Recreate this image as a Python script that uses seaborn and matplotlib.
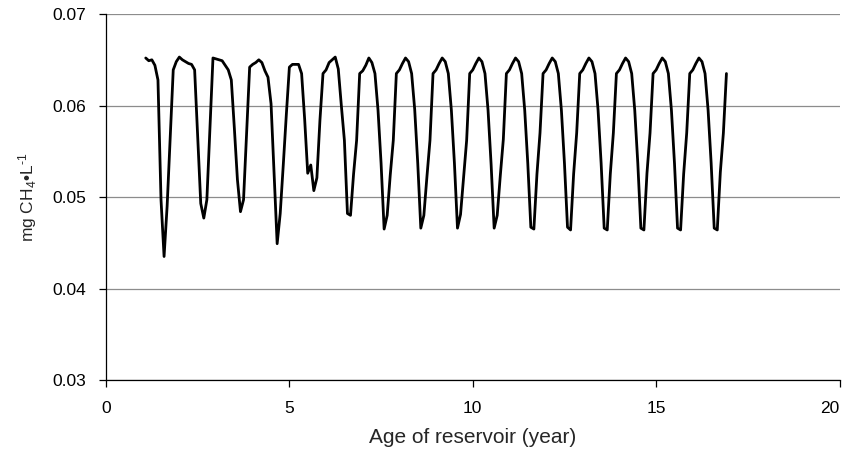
import matplotlib
matplotlib.use('Agg')
import matplotlib.pyplot as plt
import seaborn as sns
import pandas as pd

# Monthly CH4 values, one list per year of reservoir age
yr01 = [0.0652, 0.0649, 0.0650, 0.0644, 0.0628, 0.0497, 0.0435, 0.0490, 0.0565, 0.0639, 0.0648]
yr02 = [0.0653, 0.0650, 0.0648, 0.0646, 0.0645, 0.0639, 0.0565, 0.0493, 0.0477, 0.0497, 0.0575, 0.0652]
yr03 = [0.0651, 0.0650, 0.0649, 0.0644, 0.0639, 0.0628, 0.0575, 0.0519, 0.0484, 0.0497, 0.0570, 0.0642]
yr04 = [0.0645, 0.0647, 0.0650, 0.0647, 0.0638, 0.0631, 0.0602, 0.0525, 0.0449, 0.0482, 0.0535, 0.0590]
yr05 = [0.0642, 0.0645, 0.0645, 0.0645, 0.0635, 0.0585, 0.0526, 0.0535, 0.0507, 0.0521, 0.0584, 0.0635]
yr06 = [0.0639, 0.0647, 0.0650, 0.0653, 0.0640, 0.0600, 0.0562, 0.0482, 0.0480, 0.0525, 0.0562, 0.0635]
yr07 = [0.0638, 0.0644, 0.0652, 0.0647, 0.0635, 0.0595, 0.0537, 0.0465, 0.0480, 0.0524, 0.0562, 0.0635]
yr08 = [0.0639, 0.0646, 0.0652, 0.0648, 0.0635, 0.0596, 0.0537, 0.0466, 0.0480, 0.0522, 0.0562, 0.0635]
yr09 = [0.0639, 0.0646, 0.0652, 0.0648, 0.0635, 0.0595, 0.0537, 0.0466, 0.0481, 0.0522, 0.0562, 0.0635]
yr10 = [0.0639, 0.0646, 0.0652, 0.0648, 0.0635, 0.0595, 0.0536, 0.0466, 0.0480, 0.0523, 0.0563, 0.0635]
yr11 = [0.0639, 0.0646, 0.0652, 0.0648, 0.0635, 0.0595, 0.0537, 0.0467, 0.0465, 0.0525, 0.0570, 0.0635]
yr12 = [0.0639, 0.0646, 0.0652, 0.0648, 0.0635, 0.0595, 0.0537, 0.0467, 0.0464, 0.0525, 0.0570, 0.0635]
yr13 = [0.0639, 0.0646, 0.0652, 0.0648, 0.0635, 0.0595, 0.0537, 0.0466, 0.0464, 0.0525, 0.0570, 0.0635]
yr14 = [0.0639, 0.0646, 0.0652, 0.0648, 0.0635, 0.0595, 0.0537, 0.0466, 0.0464, 0.0526, 0.0570, 0.0635]
yr15 = [0.0639, 0.0646, 0.0652, 0.0648, 0.0635, 0.0595, 0.0537, 0.0466, 0.0464, 0.0525, 0.0570, 0.0635]
yr16 = [0.0639, 0.0646, 0.0652, 0.0648, 0.0635, 0.0595, 0.0537, 0.0466, 0.0464, 0.0527, 0.0570, 0.0635]

first_month = 13   # series starts at month 13 (age 1 yr + 1 month)

ch4 = (yr01 + yr02 + yr03 + yr04 + yr05 + yr06 + yr07 + yr08
       + yr09 + yr10 + yr11 + yr12 + yr13 + yr14 + yr15 + yr16)
months = list(range(first_month, first_month + len(ch4)))

df = pd.DataFrame({'age': [m / 12 for m in months], 'ch4': ch4})

sns.set_style('white')
plt.rcParams['font.family'] = ['Liberation Sans', 'DejaVu Sans']
plt.rcParams['mathtext.fontset'] = 'custom'
plt.rcParams['mathtext.rm'] = 'Liberation Sans'
plt.rcParams['mathtext.it'] = 'Liberation Sans:italic'

fig, ax = plt.subplots(figsize=(8.48, 4.54), dpi=100)
fig.subplots_adjust(left=0.125, right=0.99, bottom=0.163, top=0.969)

sns.lineplot(data=df, x='age', y='ch4', color='black', linewidth=2.0, ax=ax)

ax.set_xlim(0, 20)
ax.set_ylim(0.03, 0.07)
ax.set_xticks([0, 5, 10, 15, 20])
ax.set_yticks([0.03, 0.04, 0.05, 0.06, 0.07])
ax.set_yticklabels(['0.03', '0.04', '0.05', '0.06', '0.07'])

ax.yaxis.grid(True, color='#8c8c8c', linewidth=0.9)
ax.xaxis.grid(False)
ax.set_axisbelow(True)

for s in ['top', 'right']:
    ax.spines[s].set_visible(False)
for s in ['left', 'bottom']:
    ax.spines[s].set_color('black')
    ax.spines[s].set_linewidth(0.9)

ax.tick_params(axis='both', direction='out', length=5, width=0.9,
               color='black', labelsize=12.5, labelcolor='black',
               left=True, bottom=True)
ax.tick_params(axis='x', pad=10)
ax.tick_params(axis='y', pad=9)

# keep the last x label inside the figure, as the original does
ax.get_xticklabels()[-1].set_horizontalalignment('right')
ax.get_xticklabels()[-1].set_x(20)

ax.set_xlabel('Age of reservoir (year)', fontsize=15, labelpad=9)
ax.set_ylabel('mg CH$_4$•L$^{\u2010 1}$'.replace('\u2010 ', '\u2010'),
              fontsize=12.5, labelpad=10)

fig.savefig('out.png', dpi=100)
